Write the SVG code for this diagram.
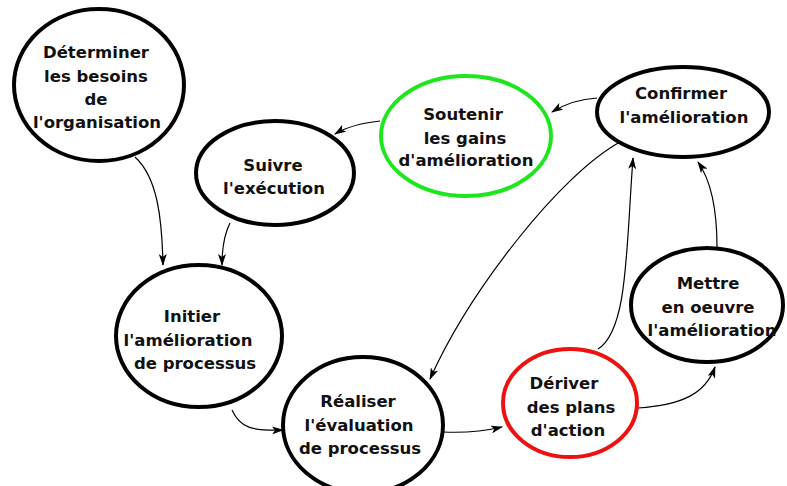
<svg xmlns="http://www.w3.org/2000/svg" width="787" height="486" viewBox="0 0 787 486">
<style>
.n{fill:#fff;stroke:#000;stroke-width:4}
.g{stroke:#1ee61e}
.r{stroke:#ee1111}
.t{font-family:"DejaVu Sans",sans-serif;font-weight:bold;font-size:16.5px;text-anchor:middle;fill:#111}
.c{fill:none;stroke:#000;stroke-width:1.2;marker-end:url(#a)}
</style>
<defs>
<marker id="a" viewBox="0 0 12 8" refX="11" refY="4" markerWidth="12" markerHeight="8" markerUnits="userSpaceOnUse" orient="auto">
<path d="M0,0 L12,4 L0,8 L3,4 Z" fill="#000"/>
</marker>
</defs>
<rect width="787" height="486" fill="#fff"/>
<g id="connectors">
<path class="c" d="M135,157 C158,178 162,220 163,265"/>
<path class="c" d="M230,223 C224,235 222,248 222,265"/>
<path class="c" d="M380,121 C362,123 348,126 335,134"/>
<path class="c" d="M597,98 C580,99 565,104 552,112"/>
<path class="c" d="M620,142 C560,175 470,290 430,379"/>
<path class="c" d="M598,349 C628,330 626,250 633,158"/>
<path class="c" d="M717,247 C717,210 712,182 698,162"/>
<path class="c" d="M232,410 C240,428 252,431 283,430"/>
<path class="c" d="M443,432 C465,433 485,431 502,427"/>
<path class="c" d="M638,408 C680,405 705,395 715,367"/>
</g>
<g id="n1"><ellipse class="n" cx="99" cy="85" rx="85" ry="76"/>
<text class="t" x="96"><tspan x="96" y="58">Déterminer</tspan><tspan x="96" y="82">les besoins</tspan><tspan x="96" y="105">de</tspan><tspan x="97" y="128">l'organisation</tspan></text></g>
<g id="n2"><ellipse class="n" cx="275" cy="173" rx="79" ry="52"/>
<text class="t"><tspan x="273" y="171">Suivre</tspan><tspan x="274" y="194">l'exécution</tspan></text></g>
<g id="n3"><ellipse class="n g" cx="466" cy="136" rx="85" ry="60"/>
<text class="t"><tspan x="463" y="120">Soutenir</tspan><tspan x="465" y="144">les gains</tspan><tspan x="466" y="166">d'amélioration</tspan></text></g>
<g id="n4"><ellipse class="n" cx="683" cy="112" rx="86" ry="45"/>
<text class="t"><tspan x="681" y="99">Confirmer</tspan><tspan x="684" y="123">l'amélioration</tspan></text></g>
<g id="n5"><ellipse class="n" cx="199" cy="336" rx="83" ry="71"/>
<text class="t"><tspan x="192" y="322">Initier</tspan><tspan x="188" y="346">l'amélioration</tspan><tspan x="195" y="369">de processus</tspan></text></g>
<g id="n6"><ellipse class="n" cx="363" cy="425" rx="80" ry="68"/>
<text class="t"><tspan x="358" y="407">Réaliser</tspan><tspan x="359" y="431">l'évaluation</tspan><tspan x="360" y="454">de processus</tspan></text></g>
<g id="n7"><ellipse class="n r" cx="570" cy="403" rx="67" ry="54"/>
<text class="t"><tspan x="564" y="389">Dériver</tspan><tspan x="571" y="413">des plans</tspan><tspan x="568" y="436">d'action</tspan></text></g>
<g id="n8"><ellipse class="n" cx="707" cy="305" rx="76" ry="57"/>
<text class="t"><tspan x="708" y="289">Mettre</tspan><tspan x="708" y="313">en oeuvre</tspan><tspan x="712" y="336">l'amélioration</tspan></text></g>
</svg>
